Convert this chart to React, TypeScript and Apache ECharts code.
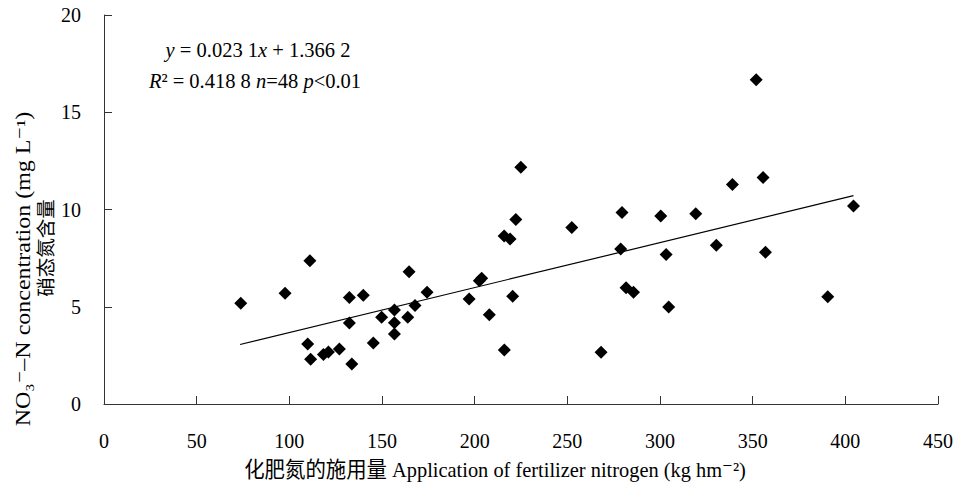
import React, { useEffect, useRef } from "react";
import * as echarts from "echarts";

// Fertilizer N application (kg hm-2) vs NO3--N concentration (mg L-1)
const appliedN: number[] = [
  73.8, 97.7, 111.1, 132.4, 139.9, 132.4, 109.9, 111.5, 118.4, 121.1, 127.0, 133.7,
  145.3, 149.8, 156.7, 156.7, 156.7, 163.9, 167.8, 164.6, 174.3, 197.0, 202.5, 203.8,
  207.9, 220.5, 216.0, 215.9, 219.1, 222.2, 224.9, 351.9, 252.4, 279.5, 300.4, 319.3,
  339.1, 355.6, 278.8, 303.3, 330.4, 356.9, 281.7, 285.7, 304.7, 390.5, 268.2, 404.4,
];
const nitrate: number[] = [
  5.18, 5.69, 7.37, 5.47, 5.59, 4.16, 3.08, 2.30, 2.54, 2.67, 2.83, 2.06,
  3.14, 4.46, 4.83, 4.18, 3.60, 4.46, 5.06, 6.80, 5.74, 5.40, 6.34, 6.46,
  4.59, 5.54, 2.78, 8.64, 8.48, 9.48, 12.17, 16.67, 9.08, 9.84, 9.67, 9.78,
  11.29, 11.65, 7.97, 7.68, 8.16, 7.80, 5.98, 5.74, 4.99, 5.52, 2.66, 10.18,
];
// Regression line endpoints (y = 0.0231x + 1.3662)
const trendX: number[] = [73.4, 404.4];
const trendY: number[] = [3.06, 10.71];

const xTicks = { min: 0, max: 450, interval: 50 };
const yTicks = { min: 0, max: 20, interval: 5 };

const xTitle = "化肥氮的施用量 Application of fertilizer nitrogen (kg hm⁻²)";
const yTitleEn = "NO₃⁻–N concentration (mg L⁻¹)";
const yTitleZh = "硝态氮含量";
const eqLine1 = "{i|y} = 0.023 1{i|x} + 1.366 2";
const eqLine2 = "{i|R}² = 0.418 8 {i|n}=48 {i|p}<0.01";

const SERIF = "'Liberation Serif', 'DejaVu Serif', 'Noto Sans CJK SC', serif";

export default function App() {
  const ref = useRef<HTMLDivElement>(null);

  useEffect(() => {
    document.body.style.margin = "0";
    if (!ref.current) return;
    const chart = echarts.init(ref.current, undefined, { renderer: "svg" });
    const points = appliedN.map((x, i) => [x, nitrate[i]]);
    const trend = trendX.map((x, i) => [x, trendY[i]]);
    const axisColor = "#333";
    chart.setOption({
      animation: false,
      backgroundColor: "#fff",
      grid: { left: 104, right: 25, top: 15, bottom: 87, containLabel: false },
      xAxis: {
        type: "value",
        min: xTicks.min,
        max: xTicks.max,
        interval: xTicks.interval,
        axisLine: { show: true, lineStyle: { color: axisColor, width: 1 } },
        axisTick: { show: true, inside: true, length: 8, lineStyle: { color: axisColor } },
        axisLabel: { margin: 27, color: "#000", fontSize: 20, fontFamily: SERIF },
        splitLine: { show: false },
      },
      yAxis: {
        type: "value",
        min: yTicks.min,
        max: yTicks.max,
        interval: yTicks.interval,
        axisLine: { show: true, lineStyle: { color: axisColor, width: 1 } },
        axisTick: { show: true, inside: true, length: 8, lineStyle: { color: axisColor } },
        axisLabel: { margin: 23, color: "#000", fontSize: 20, fontFamily: SERIF },
        splitLine: { show: false },
      },
      series: [
        {
          type: "scatter",
          data: points,
          symbol: "diamond",
          symbolSize: 13,
          itemStyle: { color: "#000", opacity: 1 },
          z: 3,
        },
        {
          type: "line",
          data: trend,
          symbol: "none",
          lineStyle: { color: "#000", width: 1.2 },
          z: 2,
        },
      ],
      graphic: [
        {
          type: "text",
          x: 258,
          y: 50,
          style: {
            text: eqLine1,
            fontSize: 20.5,
            fontFamily: SERIF,
            fill: "#000",
            align: "center",
            verticalAlign: "middle",
            rich: { i: { fontStyle: "italic", fontSize: 20.5, fontFamily: SERIF } },
          },
        },
        {
          type: "text",
          x: 255,
          y: 81,
          style: {
            text: eqLine2,
            fontSize: 20.5,
            fontFamily: SERIF,
            fill: "#000",
            align: "center",
            verticalAlign: "middle",
            rich: { i: { fontStyle: "italic", fontSize: 20.5, fontFamily: SERIF } },
          },
        },
        {
          type: "text",
          x: 495,
          y: 470,
          scaleX: 1.02,
          scaleY: 1.1,
          style: {
            text: xTitle,
            fontSize: 20,
            fontFamily: SERIF,
            fill: "#000",
            align: "center",
            verticalAlign: "middle",
          },
        },
        {
          type: "text",
          x: 23,
          y: 269,
          rotation: Math.PI / 2,
          scaleX: 1.2,
          style: {
            text: yTitleEn,
            fontSize: 20,
            fontFamily: SERIF,
            fill: "#000",
            align: "center",
            verticalAlign: "middle",
          },
        },
        {
          type: "text",
          x: 46,
          y: 248,
          rotation: Math.PI / 2,
          style: {
            text: yTitleZh,
            fontSize: 19.5,
            fontFamily: SERIF,
            fill: "#000",
            align: "center",
            verticalAlign: "middle",
          },
        },
      ],
    });
    return () => chart.dispose();
  }, []);

  return <div ref={ref} style={{ width: 963, height: 491 }} />;
}
